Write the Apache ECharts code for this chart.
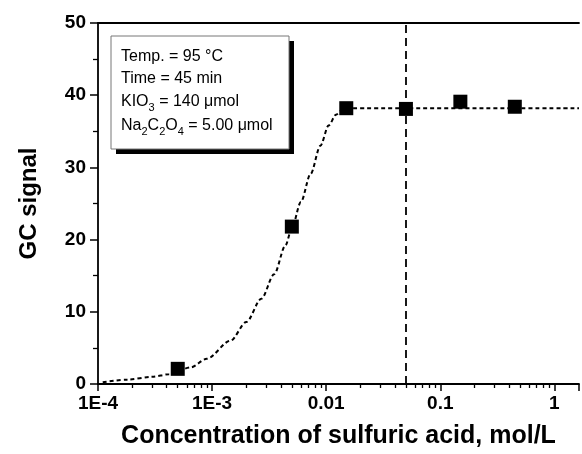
<!DOCTYPE html>
<html>
<head>
<meta charset="utf-8">
<script src="https://cdn.jsdelivr.net/npm/echarts@6/dist/echarts.min.js"></script>
<style>
  html, body { margin: 0; padding: 0; background: #fff; }
  #chart { width: 582px; height: 454px; }
</style>
</head>
<body>
<div id="chart"></div>
<script>
// measured points (acid conc. in mol/L, GC signal)
var acidConc = [5e-4, 5e-3, 0.015, 0.05, 0.15, 0.45];
var gcSignal = [2.1, 21.8, 38.2, 38.1, 39.1, 38.4];

// dashed fitted curve
var fitX = [1.1e-4, 1.8e-4, 3e-4, 4.2e-4, 6.5e-4, 9e-4, 1.45e-3, 2e-3, 2.7e-3, 3.5e-3, 4.4e-3, 5e-3, 6e-3, 7.3e-3, 8.9e-3, 0.0105, 0.0122, 0.0138, 0.016, 1.644];
var fitY = [0.25, 0.6, 1.0, 1.35, 2.3, 3.5, 6.0, 8.6, 11.8, 15.2, 19.2, 21.6, 25.2, 29.1, 33.0, 35.8, 37.3, 37.95, 38.2, 38.2];

var xTickLabels = { "0.0001": "1E-4", "0.001": "1E-3", "0.01": "0.01", "0.1": "0.1", "1": "1" };
var optimumConc = 0.05;

var chart = echarts.init(document.getElementById("chart"));

var font = "Liberation Sans";

var option = {
  backgroundColor: "#fff",
  animation: false,
  grid: { left: 98, right: 0, top: 23, bottom: 65 },
  xAxis: [
    {
      type: "log",
      min: 1e-4,
      max: 1.644,
      logBase: 10,
      name: "Concentration of sulfuric acid, mol/L",
      nameLocation: "middle",
      nameGap: 40,
      nameTextStyle: { fontFamily: font, fontWeight: "bold", fontSize: 25, color: "#000" },
      axisLine: { lineStyle: { color: "#000", width: 1.8 } },
      axisTick: { inside: false, length: 7, lineStyle: { color: "#000", width: 1.5 } },
      minorTick: { show: true, splitNumber: 9, length: 4, lineStyle: { color: "#000", width: 1.3 } },
      splitLine: { show: false },
      axisLabel: {
        margin: 10,
        fontFamily: font, fontWeight: "bold", fontSize: 19, color: "#000",
        formatter: function (v) {
          var k = String(+v.toPrecision(3));
          return xTickLabels[k] !== undefined ? xTickLabels[k] : "";
        }
      }
    },
    {
      type: "log",
      position: "top",
      min: 1e-4,
      max: 1.644,
      axisLine: { show: true, lineStyle: { color: "#000", width: 1.8 } },
      axisTick: { show: false },
      axisLabel: { show: false },
      splitLine: { show: false }
    }
  ],
  yAxis: {
    type: "value",
    min: 0,
    max: 50,
    interval: 10,
    name: "GC signal",
    nameLocation: "middle",
    nameGap: 57,
    nameTextStyle: { fontFamily: font, fontWeight: "bold", fontSize: 24, color: "#000" },
    axisLine: { show: true, lineStyle: { color: "#000", width: 1.8 } },
    axisTick: { show: true, length: 8, lineStyle: { color: "#000", width: 1.5 } },
    minorTick: { show: true, splitNumber: 2, length: 5, lineStyle: { color: "#000", width: 1.3 } },
    splitLine: { show: false },
    axisLabel: { margin: 12, fontFamily: font, fontWeight: "bold", fontSize: 19, color: "#000" }
  },
  series: [
    {
      name: "fit",
      type: "line",
      data: fitX.map(function (x, i) { return [x, fitY[i]]; }),
      smooth: 0.3,
      smoothMonotone: "x",
      showSymbol: false,
      lineStyle: { color: "#000", width: 2, type: [4, 3] },
      markLine: {
        silent: true,
        symbol: ["none", "none"],
        label: { show: false },
        lineStyle: { color: "#000", width: 1.8, type: [8, 5] },
        data: [{ xAxis: optimumConc }]
      },
      z: 2
    },
    {
      name: "measured",
      type: "scatter",
      symbol: "rect",
      symbolSize: 14,
      itemStyle: { color: "#000", opacity: 1 },
      data: acidConc.map(function (x, i) { return [x, gcSignal[i]]; }),
      z: 3
    }
  ],
  graphic: [
    { type: "rect", shape: { x: 116, y: 41, width: 178, height: 113 }, style: { fill: "#000" }, z: 10 },
    { type: "rect", shape: { x: 111, y: 36, width: 178, height: 113 }, style: { fill: "#fff", stroke: "#777", lineWidth: 1 }, z: 11 },
    {
      type: "text", x: 121, y: 57, z: 12,
      style: { text: "Temp. = 95 °C", font: "16px " + font, fill: "#000", verticalAlign: "middle" }
    },
    {
      type: "text", x: 121, y: 79, z: 12,
      style: { text: "Time = 45 min", font: "16px " + font, fill: "#000", verticalAlign: "middle" }
    },
    {
      type: "text", x: 121, y: 102, z: 12,
      style: {
        text: "{t|KIO}{s|3}{t| = 140 μmol}",
        verticalAlign: "middle",
        rich: {
          t: { fontFamily: font, fontSize: 16, color: "#000", lineHeight: 22 },
          s: { fontFamily: font, fontSize: 11, color: "#000", lineHeight: 22, verticalAlign: "bottom" }
        }
      }
    },
    {
      type: "text", x: 121, y: 126, z: 12,
      style: {
        text: "{t|Na}{s|2}{t|C}{s|2}{t|O}{s|4}{t| = 5.00 μmol}",
        verticalAlign: "middle",
        rich: {
          t: { fontFamily: font, fontSize: 16, color: "#000", lineHeight: 22 },
          s: { fontFamily: font, fontSize: 11, color: "#000", lineHeight: 22, verticalAlign: "bottom" }
        }
      }
    }
  ]
};

chart.setOption(option);
</script>
</body>
</html>
